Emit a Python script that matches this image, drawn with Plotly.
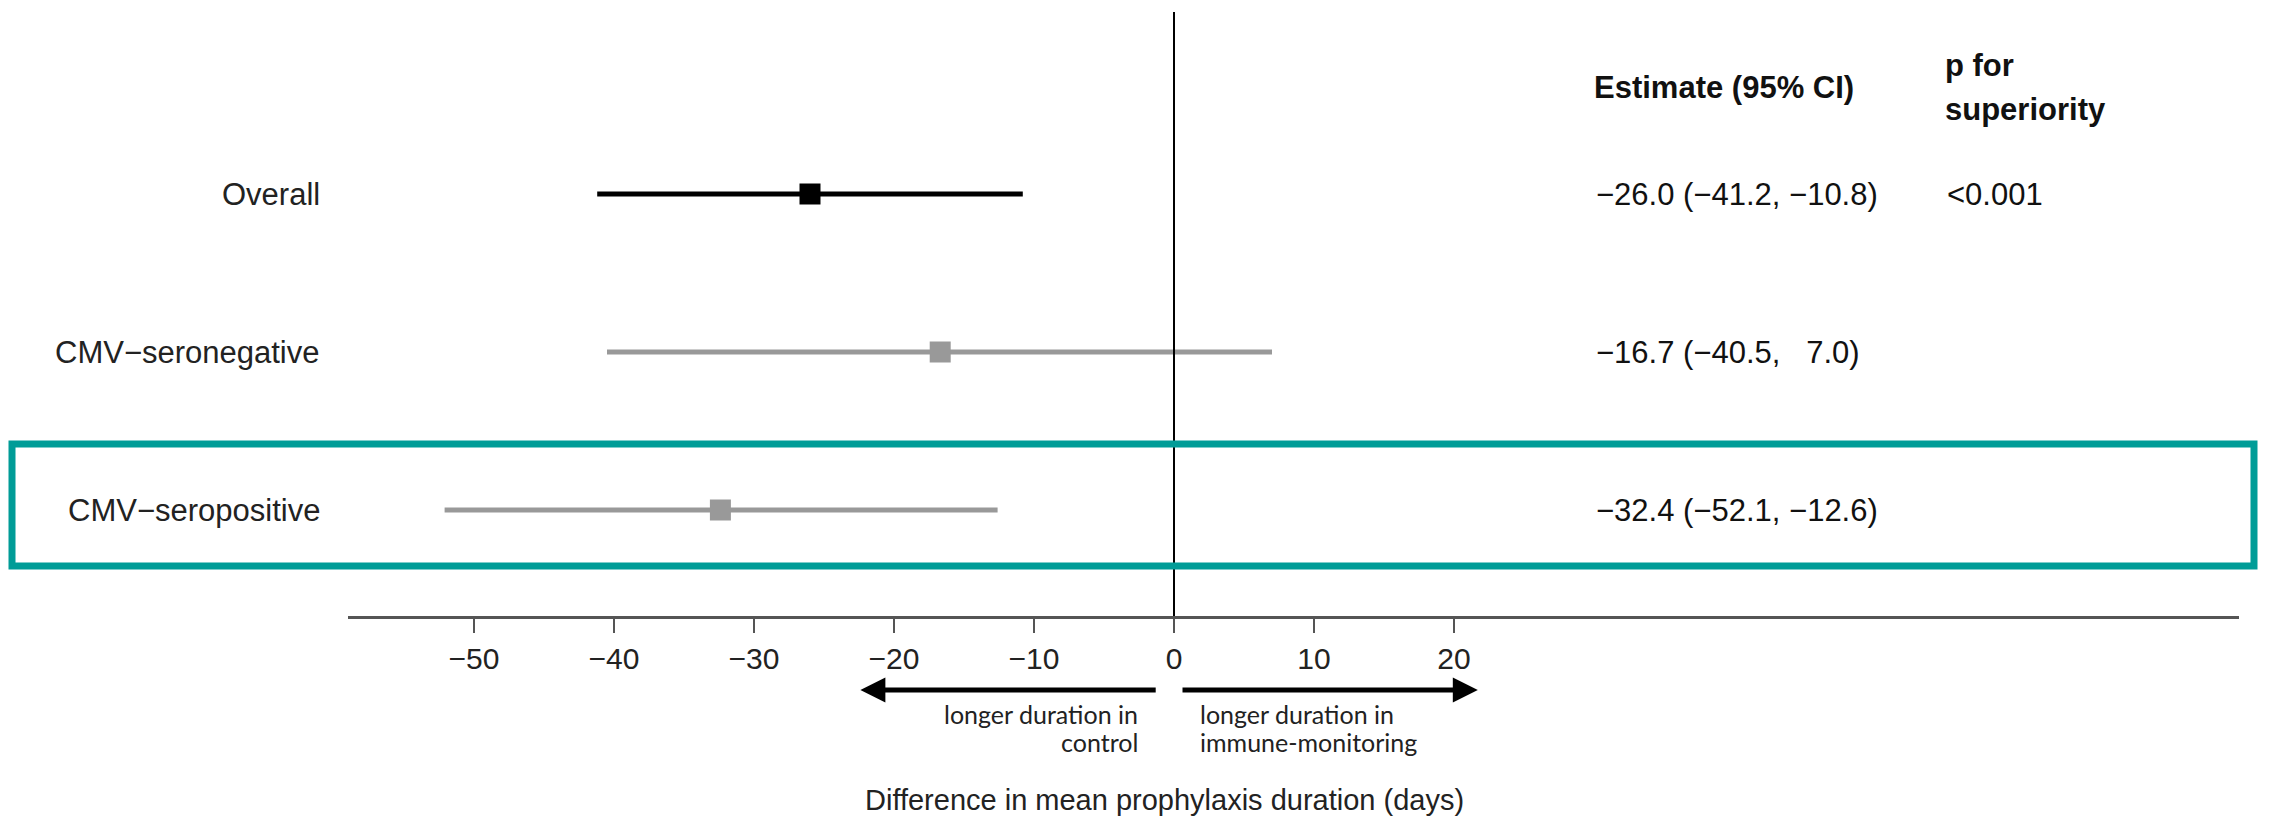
import plotly.graph_objects as go

# ---- data ----
categories = ["Overall", "CMV\u2212seronegative", "CMV\u2212seropositive"]
estimates = [-26.0, -16.7, -32.4]
ci_lower = [-41.2, -40.5, -52.1]
ci_upper = [-10.8, 7.0, -12.6]
p_values = ["<0.001", "", ""]
tick_values = [-50, -40, -30, -20, -10, 0, 10, 20]
row_colors = ["#000000", "#999999", "#999999"]

# ---- layout constants (pixels) ----
W, H = 2272, 823
PL, PR, PT, PB = 348, 2239, 0, 616
ZERO_PX, PX_PER_UNIT = 1174, 14.0
ROW0_PX, ROW_STEP = 194, 158

x_lo = (PL - ZERO_PX) / PX_PER_UNIT
x_hi = (PR - ZERO_PX) / PX_PER_UNIT
y_top = -ROW0_PX / ROW_STEP
y_bot = y_top + (PB - PT) / ROW_STEP


def xp(px):
    return (px - PL) / (PR - PL)


def yp(py):
    return (PB - py) / (PB - PT)


def fmt(v, w=None):
    s = f"{v:{w}.1f}" if w else f"{v:.1f}"
    return s.replace("-", "\u2212").replace(" ", "\u00a0")


FONT = "Liberation Sans, Arial, sans-serif"
FONT2 = "Lato, Open Sans, sans-serif"
FS = 31

fig = go.Figure()
for k, cat in enumerate(categories):
    fig.add_trace(go.Scatter(
        x=[ci_lower[k], ci_upper[k]], y=[k, k], mode="lines",
        line=dict(color=row_colors[k], width=5), showlegend=False,
        hoverinfo="skip"))
    fig.add_trace(go.Scatter(
        x=[estimates[k]], y=[k], mode="markers",
        marker=dict(symbol="square", size=21, color=row_colors[k]),
        showlegend=False, name=cat))

annotations = []
for k, cat in enumerate(categories):
    annotations.append(dict(
        x=xp(322), xref="paper", y=k, yref="y", text=cat, showarrow=False,
        xanchor="right", yanchor="middle",
        font=dict(family=FONT, size=FS, color="#222222")))
    est_txt = f"{fmt(estimates[k])} ({fmt(ci_lower[k], 5)}, {fmt(ci_upper[k], 5)})"
    annotations.append(dict(
        x=xp(1594), xref="paper", y=k, yref="y", text=est_txt, showarrow=False,
        xanchor="left", yanchor="middle",
        font=dict(family=FONT, size=FS, color="#111111")))
    if p_values[k]:
        annotations.append(dict(
            x=xp(1945), xref="paper", y=k, yref="y", text=p_values[k],
            showarrow=False, xanchor="left", yanchor="middle",
            font=dict(family=FONT, size=FS, color="#111111")))

# headers
annotations.append(dict(
    x=xp(1592), xref="paper", y=yp(87), yref="paper",
    text="<b>Estimate (95% CI)</b>", showarrow=False, xanchor="left",
    yanchor="middle", font=dict(family=FONT, size=FS, color="#111111")))
annotations.append(dict(
    x=xp(1943), xref="paper", y=yp(65), yref="paper", text="<b>p for</b>",
    showarrow=False, xanchor="left", yanchor="middle",
    font=dict(family=FONT, size=FS, color="#111111")))
annotations.append(dict(
    x=xp(1943), xref="paper", y=yp(109), yref="paper", text="<b>superiority</b>",
    showarrow=False, xanchor="left", yanchor="middle",
    font=dict(family=FONT, size=FS, color="#111111")))

# direction arrows
annotations.append(dict(
    x=-22.4, xref="x", y=yp(690), yref="paper", ax=-1.2, axref="x", ay=0,
    ayref="pixel", text="", showarrow=True, arrowhead=2, arrowsize=1,
    arrowwidth=5, arrowcolor="#000000"))
annotations.append(dict(
    x=21.7, xref="x", y=yp(690), yref="paper", ax=0.5, axref="x", ay=0,
    ayref="pixel", text="", showarrow=True, arrowhead=2, arrowsize=1,
    arrowwidth=5, arrowcolor="#000000"))

for txt, py in [("longer duration in", 714), ("control", 742)]:
    annotations.append(dict(
        x=xp(1140), xref="paper", y=yp(py), yref="paper", text=txt,
        showarrow=False, xanchor="right", yanchor="middle",
        font=dict(family=FONT2, size=25, color="#222222")))
for txt, py in [("longer duration in", 714), ("immune-monitoring", 742)]:
    annotations.append(dict(
        x=xp(1198), xref="paper", y=yp(py), yref="paper", text=txt,
        showarrow=False, xanchor="left", yanchor="middle",
        font=dict(family=FONT2, size=25, color="#222222")))

annotations.append(dict(
    x=xp(1164), xref="paper", y=yp(800), yref="paper",
    text="Difference in mean prophylaxis duration (days)", showarrow=False,
    xanchor="center", yanchor="middle",
    font=dict(family=FONT, size=29, color="#222222")))

shapes = [
    dict(type="line", xref="x", x0=0, x1=0, yref="paper", y0=0, y1=yp(12),
         line=dict(color="#000000", width=2)),
    dict(type="rect", xref="paper", x0=xp(12), x1=xp(2254), yref="paper",
         y0=yp(566), y1=yp(444), line=dict(color="#009C97", width=7),
         fillcolor="rgba(0,0,0,0)"),
]

fig.update_layout(
    width=W, height=H,
    margin=dict(l=PL, r=W - PR, t=PT, b=H - PB, pad=0),
    paper_bgcolor="white", plot_bgcolor="white",
    showlegend=False,
    xaxis=dict(range=[x_lo, x_hi], tickmode="array", tickvals=tick_values,
               showline=True, linecolor="#555555", linewidth=2.5,
               ticks="outside", ticklen=14, tickwidth=2, tickcolor="#555555",
               showgrid=False, zeroline=False,
               tickfont=dict(family=FONT, size=30, color="#222222")),
    yaxis=dict(range=[y_bot, y_top], visible=False, showgrid=False,
               zeroline=False),
    annotations=annotations, shapes=shapes,
)

fig.write_html("out.html")
